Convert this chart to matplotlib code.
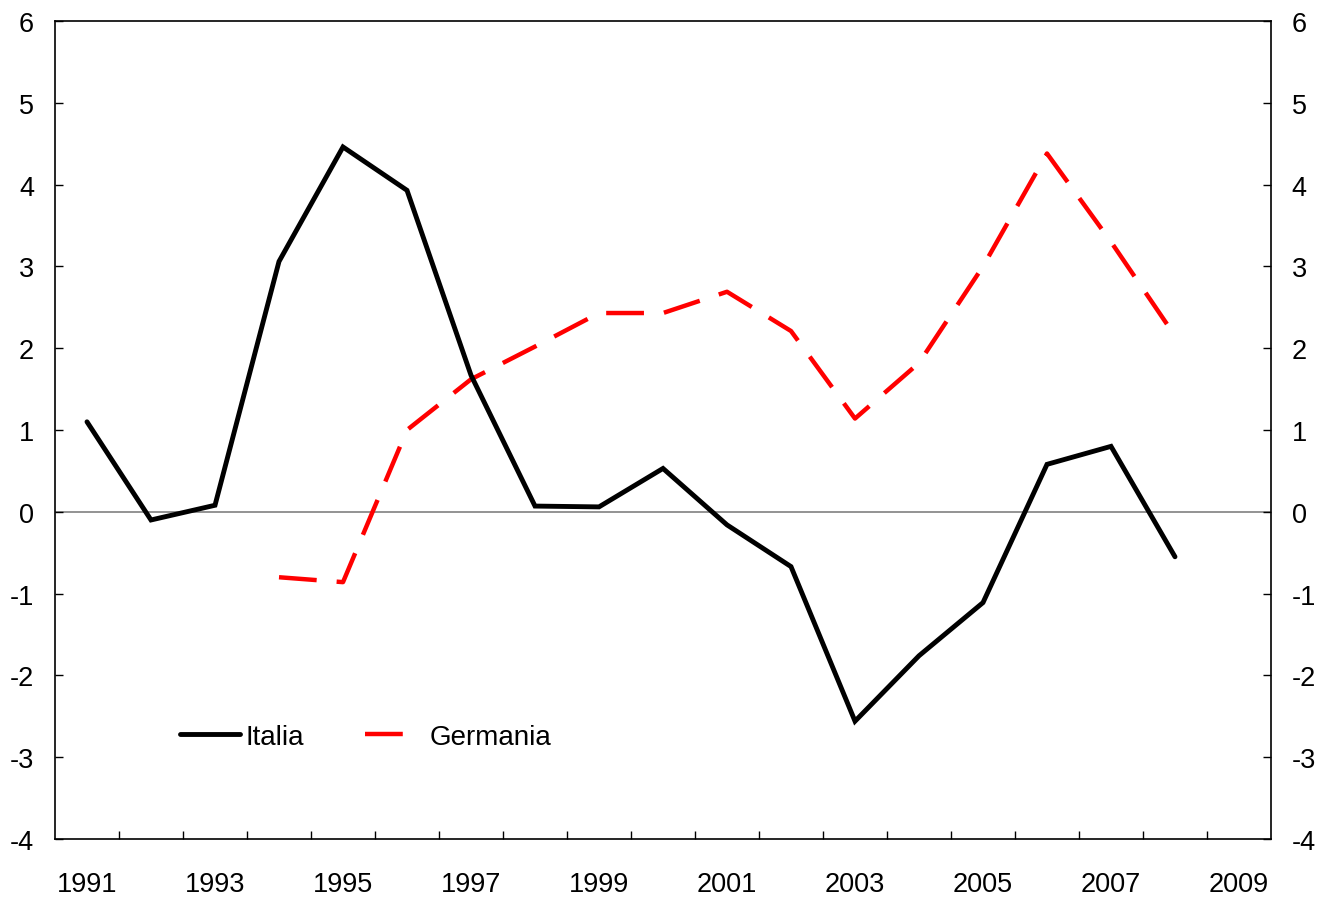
import matplotlib
matplotlib.use("Agg")
import matplotlib.pyplot as plt
from matplotlib.lines import Line2D
from matplotlib.ticker import FixedLocator, NullFormatter

plt.rcParams["font.family"] = ["Liberation Sans", "DejaVu Sans"]

years = list(range(1991, 2010))
italia = [1.1, -0.1, 0.08, 3.06, 4.46, 3.93, 1.67, 0.07, 0.06, 0.53, -0.16, -0.67,
          -2.56, -1.76, -1.11, 0.58, 0.8, -0.55, None]
germania = [None, None, None, -0.8, -0.86, 1.0, 1.62, 2.02, 2.43, 2.43, 2.69, 2.21,
            1.14, 1.82, 3.0, 4.38, 3.3, 2.15, None]
yticks = list(range(-4, 7))

x = list(range(len(years)))
it_x = [i for i, v in zip(x, italia) if v is not None]
it_y = [v for v in italia if v is not None]
de_x = [i for i, v in zip(x, germania) if v is not None]
de_y = [v for v in germania if v is not None]

fig = plt.figure(figsize=(13.35, 9.03), dpi=100)
ax = fig.add_axes([55 / 1335, 63 / 903, 1216 / 1335, 818 / 903])

ax.axhline(0, color="#808080", lw=1.2, zorder=1)
ax.plot(it_x, it_y, color="black", lw=3.5, zorder=3,
        solid_capstyle="round", solid_joinstyle="miter")
ax.plot(de_x, de_y, color="red", lw=3.2, zorder=2,
        dashes=(8.5, 4.5), dash_capstyle="butt")

ax.set_xlim(-0.5, len(years) - 0.5)
ax.set_ylim(-4, 6)
ax.set_yticks(yticks)
ax.set_yticklabels([str(v) for v in yticks])

ax.set_xticks(x[::2])
ax.set_xticklabels([str(y) for y in years[::2]])
ax.xaxis.set_minor_locator(FixedLocator([i + 0.5 for i in x[:-1]]))
ax.xaxis.set_minor_formatter(NullFormatter())
ax.tick_params(axis="x", which="major", length=0, pad=23, labelsize=19.5)
ax.tick_params(axis="x", which="minor", direction="in", length=6, width=1, color="black")
ax.tick_params(axis="y", direction="in", length=6, width=1, pad=15, labelsize=19.5,
               left=True, right=True, labelleft=True, labelright=True)

for s in ax.spines.values():
    s.set_linewidth(1.2)
    s.set_color("black")

# legend handles: the Germania one shows a single dash like the original
handles = [
    Line2D([], [], color="black", lw=3.5, solid_capstyle="round"),
    Line2D([], [], color="red", lw=3.2, dashes=(8.5, 20), dash_capstyle="butt"),
]
ax.legend(handles, ["Italia", "Germania"], loc="center left",
          bbox_to_anchor=(0.103, 0.125), ncol=2, frameon=False,
          fontsize=20, handlelength=2.16, handletextpad=0.18, columnspacing=2.2,
          borderpad=0, borderaxespad=0)

fig.savefig("out.png", dpi=100)
